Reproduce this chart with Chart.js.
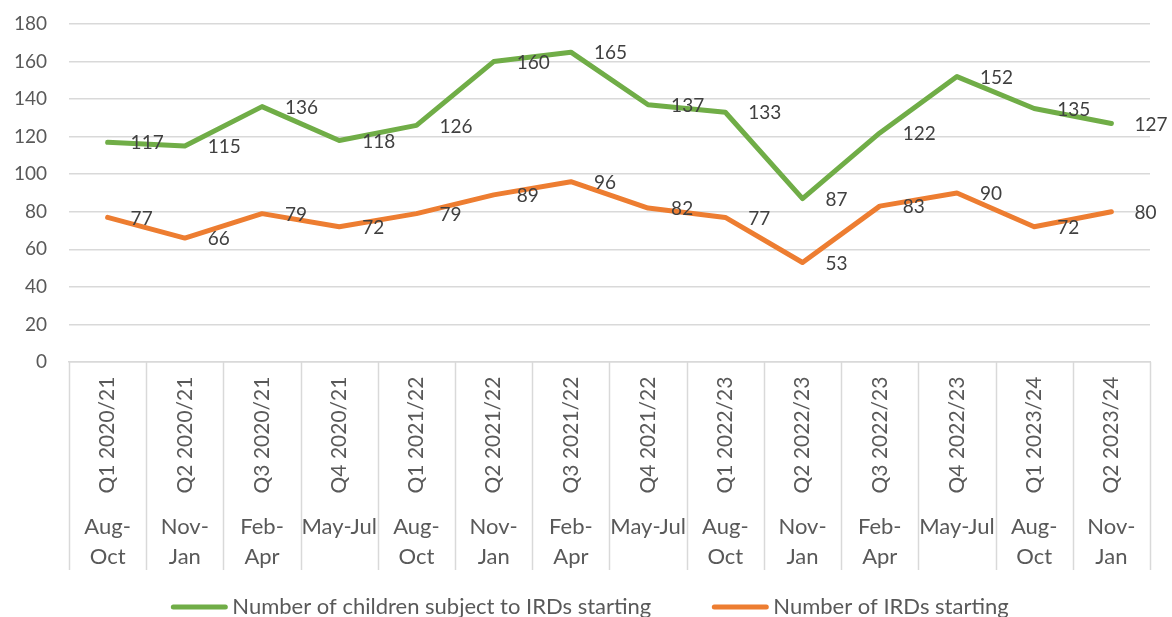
<!DOCTYPE html>
<html>
<head>
<meta charset="utf-8">
<script src="https://cdn.jsdelivr.net/npm/chart.js@4"></script>
<style>
  html, body { margin: 0; padding: 0; background: #fff; }
  #wrap { width: 1172px; height: 617px; position: relative; }
</style>
</head>
<body>
<div id="wrap"><canvas id="irdChart"></canvas></div>
<script>
// data
const quarters = ['Q1 2020/21', 'Q2 2020/21', 'Q3 2020/21', 'Q4 2020/21', 'Q1 2021/22', 'Q2 2021/22', 'Q3 2021/22',
                  'Q4 2021/22', 'Q1 2022/23', 'Q2 2022/23', 'Q3 2022/23', 'Q4 2022/23', 'Q1 2023/24', 'Q2 2023/24'];
const months = [['Aug-', 'Oct'], ['Nov-', 'Jan'], ['Feb-', 'Apr'], ['May-Jul'], ['Aug-', 'Oct'], ['Nov-', 'Jan'], ['Feb-', 'Apr'],
                ['May-Jul'], ['Aug-', 'Oct'], ['Nov-', 'Jan'], ['Feb-', 'Apr'], ['May-Jul'], ['Aug-', 'Oct'], ['Nov-', 'Jan']];
const childrenStarting = [117, 115, 136, 118, 126, 160, 165, 137, 133, 87, 122, 152, 135, 127];
const irdsStarting = [77, 66, 79, 72, 79, 89, 96, 82, 77, 53, 83, 90, 72, 80];
const yTicks = [0, 20, 40, 60, 80, 100, 120, 140, 160, 180];

const FONT = 'Lato, "Liberation Sans", sans-serif';
const GRID = '#d9d9d9';

// data labels, two-level category axis and legend, drawn by hand like Excel does
const excelBits = {
  id: 'excelBits',
  afterDatasetsDraw(chart) {
    const ctx = chart.ctx;
    ctx.save();
    ctx.font = '19px ' + FONT;
    ctx.fillStyle = '#404040';
    ctx.textAlign = 'left';
    ctx.textBaseline = 'middle';
    chart.data.datasets.forEach((ds, i) => {
      chart.getDatasetMeta(i).data.forEach((pt, j) => {
        ctx.fillText(String(ds.data[j]), pt.x + 23, pt.y + 1);
      });
    });
    ctx.restore();
  },
  afterDraw(chart) {
    const ctx = chart.ctx;
    const x = chart.scales.x;
    const bottom = chart.chartArea.bottom;
    const half = (x.getPixelForValue(1) - x.getPixelForValue(0)) / 2;
    ctx.save();
    // separators
    ctx.strokeStyle = GRID;
    ctx.lineWidth = 1.5;
    for (let i = 0; i <= quarters.length; i++) {
      const px = Math.round(x.getPixelForValue(0) - half + i * half * 2) + 0.5;
      ctx.beginPath();
      ctx.moveTo(px, bottom);
      ctx.lineTo(px, bottom + 208);
      ctx.stroke();
    }
    ctx.fillStyle = '#595959';
    quarters.forEach((q, i) => {
      const cx = x.getPixelForValue(i);
      ctx.save();
      ctx.font = '21px ' + FONT;
      ctx.translate(cx, bottom + 73);
      ctx.rotate(-Math.PI / 2);
      ctx.textAlign = 'center';
      ctx.textBaseline = 'middle';
      ctx.fillText(q, 0, 0);
      ctx.restore();
      ctx.font = '22px ' + FONT;
      ctx.textAlign = 'center';
      ctx.textBaseline = 'middle';
      months[i].forEach((m, k) => ctx.fillText(m, cx, bottom + 165 + k * 30));
    });
    // legend
    ctx.font = '22px ' + FONT;
    ctx.textBaseline = 'middle';
    ctx.textAlign = 'left';
    const lineLen = 56, gapText = 5, gapItem = 61, ly = 607;
    const items = chart.data.datasets.map(ds => ({ label: ds.label, color: ds.borderColor, w: ctx.measureText(ds.label).width }));
    let total = items.reduce((s, it) => s + lineLen + gapText + it.w, 0) + gapItem * (items.length - 1);
    let lx = (chart.width - total) / 2 + 4;
    items.forEach(it => {
      ctx.strokeStyle = it.color;
      ctx.lineWidth = 5;
      ctx.lineCap = 'round';
      ctx.beginPath();
      ctx.moveTo(lx + 2, ly);
      ctx.lineTo(lx + lineLen - 2, ly);
      ctx.stroke();
      ctx.fillStyle = '#595959';
      ctx.fillText(it.label, lx + lineLen + gapText, ly);
      lx += lineLen + gapText + it.w + gapItem;
    });
    ctx.restore();
  }
};

const ctx = document.getElementById('irdChart').getContext('2d');
const irdChart = new Chart(ctx, {
  type: 'line',
  data: {
    labels: quarters,
    datasets: [{
      label: 'Number of children subject to IRDs starting',
      data: childrenStarting,
      borderColor: '#70ad47',
      backgroundColor: '#70ad47',
      borderWidth: 5,
      pointRadius: 0,
      tension: 0,
      borderCapStyle: 'round',
      borderJoinStyle: 'round'
    }, {
      label: 'Number of IRDs starting',
      data: irdsStarting,
      borderColor: '#ed7d31',
      backgroundColor: '#ed7d31',
      borderWidth: 5,
      pointRadius: 0,
      tension: 0,
      borderCapStyle: 'round',
      borderJoinStyle: 'round'
    }]
  },
  options: {
    responsive: true,
    maintainAspectRatio: false,
    animation: false,
    layout: { padding: { left: 0, right: 22, top: 24, bottom: 0 } },
    plugins: {
      legend: { display: false },
      tooltip: { enabled: false }
    },
    scales: {
      x: {
        offset: true,
        grid: { display: false },
        border: { color: GRID, width: 1.5 },
        ticks: { display: false },
        afterFit(scale) { scale.height = 255; }
      },
      y: {
        min: 0,
        max: 180,
        afterBuildTicks(scale) { scale.ticks = yTicks.map(v => ({ value: v })); },
        grid: { color: GRID, lineWidth: 1.5, drawTicks: false },
        border: { display: false },
        ticks: {
          color: '#595959',
          font: { family: FONT, size: 19 },
          padding: 22
        },
        afterFit(scale) {
          scale.width = 69;
          scale.paddingTop = 0;
          scale.paddingBottom = 0;
        }
      }
    }
  },
  plugins: [excelBits]
});
</script>
</body>
</html>
